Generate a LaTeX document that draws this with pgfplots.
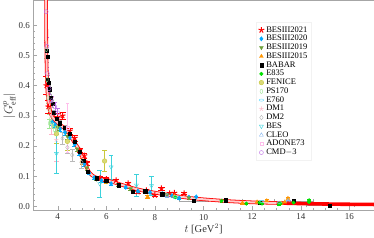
\documentclass[border=0pt]{standalone}
\usepackage{pgfplots}
\pgfplotsset{compat=1.18}
\usepackage{fontspec}
\setmainfont{Liberation Serif}
\usetikzlibrary{plotmarks}
\definecolor{c21}{RGB}{255,0,0}
\definecolor{c20}{RGB}{0,170,255}
\definecolor{c19}{RGB}{110,160,60}
\definecolor{c15}{RGB}{255,150,0}
\definecolor{cbab}{RGB}{0,0,0}
\definecolor{ce835}{RGB}{0,225,0}
\definecolor{cfen}{RGB}{200,200,60}
\definecolor{cps}{RGB}{160,230,150}
\definecolor{ce760}{RGB}{100,220,255}
\definecolor{cdm1}{RGB}{255,180,200}
\definecolor{cdm2}{RGB}{185,185,185}
\definecolor{cbes}{RGB}{60,210,220}
\definecolor{ccleo}{RGB}{130,180,240}
\definecolor{cad}{RGB}{255,190,235}
\definecolor{ccmd}{RGB}{190,110,230}
\begin{document}
\begin{tikzpicture}
\begin{axis}[
  width=340pt, height=210pt, scale only axis,
  xmin=3, xmax=17, ymin=-0.014, ymax=0.683,
  axis line style={gray!70},
  xtick={4,6,...,16}, ytick={0,0.1,...,0.6},
  minor x tick num=3, minor y tick num=4,
  tick align=inside, xtick pos=bottom, ytick pos=left,
  major tick length=4pt, minor tick length=2pt,
  tick style={gray!70},
  xticklabel style={font=\fontsize{9}{10}\selectfont, text=black!80},
  yticklabel style={font=\fontsize{9}{10}\selectfont, text=black!80, /pgf/number format/.cd, fixed, fixed zerofill, precision=1},
  /pgf/number format/assume math mode=true,
  xlabel={$t$ [GeV$^2$]}, ylabel={$|G_{\mathrm{eff}}^{p}|$},
  xlabel style={font=\fontsize{10.5}{11}\selectfont, text=black!80, yshift=3pt},
  ylabel style={font=\fontsize{12}{13}\selectfont, text=black!80, yshift=-4pt},
  clip=true,
  legend cell align=left,
  legend style={at={(0.655,0.895)}, anchor=north west, draw=gray!10, font=\fontsize{8.5}{9}\selectfont, row sep=-2.4pt, inner sep=2pt},
  error bars/error bar style={line width=0.4pt},
]
% BESIII2021
\addplot[only marks, mark=star, mark size=3pt, color=c21, mark options={fill=c21, line width=1pt},
  error bars/.cd, y dir=both, y explicit] table[x=x,y=y,y error=e] {
x y e
3.54 0.40 0.03
3.62 0.33 0.02
3.80 0.305 0.015
4.00 0.295 0.012
4.20 0.300 0.012
4.50 0.250 0.010
4.70 0.226 0.010
4.90 0.186 0.008
5.10 0.168 0.008
5.20 0.143 0.007
5.75 0.093 0.006
6.00 0.090 0.006
6.40 0.086 0.005
6.90 0.076 0.005
7.29 0.048 0.005
7.65 0.053 0.005
8.00 0.037 0.004
8.27 0.059 0.005
8.60 0.043 0.004
8.80 0.044 0.004
9.20 0.043 0.004
};
\addlegendentry{BESIII2021}
% BESIII2020
\addplot[only marks, mark=diamond*, mark size=2.2pt, color=c20,
  error bars/.cd, y dir=both, y explicit] table[x=x,y=y,y error=e] {
x y e
3.77 0.280 0.010
3.90 0.270 0.008
4.10 0.257 0.008
4.30 0.245 0.008
4.50 0.228 0.007
4.70 0.205 0.007
4.90 0.175 0.006
5.10 0.140 0.006
5.30 0.110 0.005
5.50 0.095 0.005
5.80 0.085 0.004
6.20 0.075 0.004
6.80 0.063 0.004
7.30 0.050 0.003
7.80 0.046 0.003
8.30 0.042 0.003
8.70 0.035 0.003
9.00 0.027 0.003
9.40 0.030 0.003
9.70 0.031 0.003
};
\addlegendentry{BESIII2020}
% BESIII2019
\addplot[only marks, mark=triangle*, mark size=2.2pt, color=c19, mark options={rotate=180},
  error bars/.cd, y dir=both, y explicit] table[x=x,y=y,y error=e] {
x y e
4.00 0.262 0.010
4.40 0.232 0.009
4.80 0.190 0.008
5.20 0.128 0.007
5.60 0.090 0.005
6.00 0.082 0.005
6.50 0.072 0.004
7.00 0.058 0.004
8.50 0.038 0.003
9.40 0.028 0.003
};
\addlegendentry{BESIII2019}
% BESIII2015
\addplot[only marks, mark=triangle*, mark size=2.2pt, color=c15,
  error bars/.cd, y dir=both, y explicit] table[x=x,y=y,y error=e] {
x y e
5.00 0.150 0.010
6.00 0.083 0.008
7.70 0.031 0.005
8.80 0.034 0.004
11.60 0.011 0.004
12.20 0.014 0.004
12.60 0.018 0.004
13.20 0.010 0.004
13.34 0.014 0.004
13.47 0.026 0.005
};
\addlegendentry{BESIII2015}
% BABAR
\addplot[only marks, mark=square*, mark size=1.6pt, color=cbab,
  error bars/.cd, y dir=both, y explicit, x dir=both, x explicit, error bar style={black!35}] table[x=x,y=y,y error=e,x error=ex] {
x y e ex
3.56 0.515 0.02 0
3.58 0.497 0.02 0
3.60 0.420 0.015 0
3.63 0.410 0.015 0
3.68 0.388 0.012 0
3.72 0.360 0.012 0
3.78 0.340 0.010 0
3.85 0.310 0.010 0
3.95 0.290 0.010 0
4.10 0.275 0.009 0
4.30 0.260 0.009 0
4.50 0.240 0.008 0
4.70 0.215 0.008 0
4.90 0.180 0.008 0
5.05 0.150 0.007 0
5.25 0.115 0.006 0
5.60 0.093 0.005 0
6.00 0.085 0.005 0
6.50 0.070 0.005 0
7.10 0.047 0.004 0
7.60 0.050 0.004 0
8.30 0.040 0.004 0.3
9.60 0.018 0.004 0.6
10.90 0.020 0.004 0.7
12.30 0.013 0.004 0.8
13.70 0.018 0.004 0.8
15.20 0.002 0.004 1.0
};
\addlegendentry{BABAR}
% E835
\addplot[only marks, mark=*, mark size=1.8pt, color=ce835,
  error bars/.cd, y dir=both, y explicit] table[x=x,y=y,y error=e] {
x y e
8.84 0.030 0.003
10.74 0.018 0.003
11.76 0.009 0.003
12.30 0.012 0.003
12.40 0.009 0.003
13.10 0.007 0.003
13.16 0.009 0.003
13.70 0.012 0.003
14.34 0.014 0.004
14.34 0.020 0.004
};
\addlegendentry{E835}
% FENICE
\addplot[only marks, mark=*, mark size=2.3pt, color=cfen, mark options={fill=cfen!70},
  error bars/.cd, y dir=both, y explicit] table[x=x,y=y,y error=e] {
x y e
3.95 0.240 0.03
4.40 0.215 0.03
5.93 0.150 0.035
};
\addlegendentry{FENICE}
% PS170
\addplot[only marks, mark=o, mark size=2.2pt, color=cps, mark options={xscale=0.6},
  error bars/.cd, y dir=both, y explicit] table[x=x,y=y,y error=e] {
x y e
3.53 0.520 0.03
3.56 0.420 0.02
3.60 0.360 0.02
3.65 0.320 0.015
3.67 0.275 0.015
3.72 0.290 0.015
3.78 0.270 0.012
3.88 0.252 0.012
3.95 0.260 0.012
};
\addlegendentry{PS170}
% E760
\addplot[only marks, mark=o, mark size=2.2pt, color=ce760, mark options={yscale=0.5},
  error bars/.cd, y dir=both, y explicit] table[x=x,y=y,y error=e] {
x y e
8.84 0.032 0.004
12.40 0.016 0.004
13.11 0.013 0.004
};
\addlegendentry{E760}
% DM1
\addplot[only marks, mark=star, mark size=2.5pt, color=cdm1,
  error bars/.cd, y dir=both, y explicit] table[x=x,y=y,y error=e] {
x y e
3.75 0.300 0.06
3.94 0.220 0.07
};
\addlegendentry{DM1}
% DM2
\addplot[only marks, mark=diamond, mark size=2.3pt, color=cdm2,
  error bars/.cd, y dir=both, y explicit] table[x=x,y=y,y error=e] {
x y e
4.20 0.225 0.02
4.40 0.195 0.02
4.60 0.170 0.02
4.98 0.146 0.02
};
\addlegendentry{DM2}
% BES
\addplot[only marks, mark=triangle, mark size=2.3pt, color=cbes, mark options={rotate=180},
  error bars/.cd, y dir=both, y explicit] table[x=x,y=y,y error=e] {
x y e
3.95 0.175 0.065
5.73 0.075 0.045
6.20 0.130 0.040
7.24 0.070 0.035
7.86 0.068 0.032
};
\addlegendentry{BES}
% CLEO
\addplot[only marks, mark=triangle, mark size=2.3pt, color=ccleo,
  error bars/.cd, y dir=both, y explicit] table[x=x,y=y,y error=e] {
x y e
8.50 0.036 0.005
13.48 0.018 0.003
};
\addlegendentry{CLEO}
% ADONE73
\addplot[only marks, mark=square, mark size=1.6pt, color=cad,
  error bars/.cd, y dir=both, y explicit] table[x=x,y=y,y error=e] {
x y e
4.41 0.260 0.08
};
\addlegendentry{ADONE73}
% CMD-3
\addplot[only marks, mark=o, mark size=2pt, color=ccmd,
  error bars/.cd, y dir=both, y explicit] table[x=x,y=y,y error=e] {
x y e
3.53 0.645 0.10
3.56 0.530 0.03
3.58 0.440 0.02
3.65 0.390 0.02
3.75 0.350 0.015
3.88 0.330 0.015
4.00 0.310 0.015
};
\addlegendentry{CMD$-$3}
% fit band
\addplot[forget plot, red, line width=3.6pt, smooth, tension=0.4] coordinates {
(3.522,0.90) (3.53,0.56) (3.55,0.45) (3.58,0.38) (3.65,0.33) (3.75,0.30)
(3.9,0.285) (4.1,0.27) (4.4,0.25) (4.7,0.21) (4.9,0.185) (5.1,0.145)
(5.3,0.112) (5.5,0.098) (5.8,0.090) (6.2,0.082) (6.6,0.072) (7.0,0.062)
(7.5,0.052) (8.0,0.045) (8.5,0.038) (9.0,0.032) (9.5,0.027) (10,0.023)
(11,0.017) (12,0.013) (13,0.011) (14,0.009) (15,0.0075) (16,0.0065) (17,0.006)};
\addplot[forget plot, red!20, line width=2.0pt, smooth, tension=0.4] coordinates {
(3.522,0.90) (3.53,0.56) (3.55,0.45) (3.58,0.38) (3.65,0.33) (3.75,0.30)
(3.9,0.285) (4.1,0.27) (4.4,0.25) (4.7,0.21) (4.9,0.185) (5.1,0.145)
(5.3,0.112) (5.5,0.098) (5.8,0.090) (6.2,0.082) (6.6,0.072) (7.0,0.062)
(7.5,0.052) (8.0,0.045) (8.5,0.038) (9.0,0.032) (9.5,0.027) (10,0.023)
(11,0.017) (12,0.013) (13,0.011)};
\end{axis}
\end{tikzpicture}
\end{document}
